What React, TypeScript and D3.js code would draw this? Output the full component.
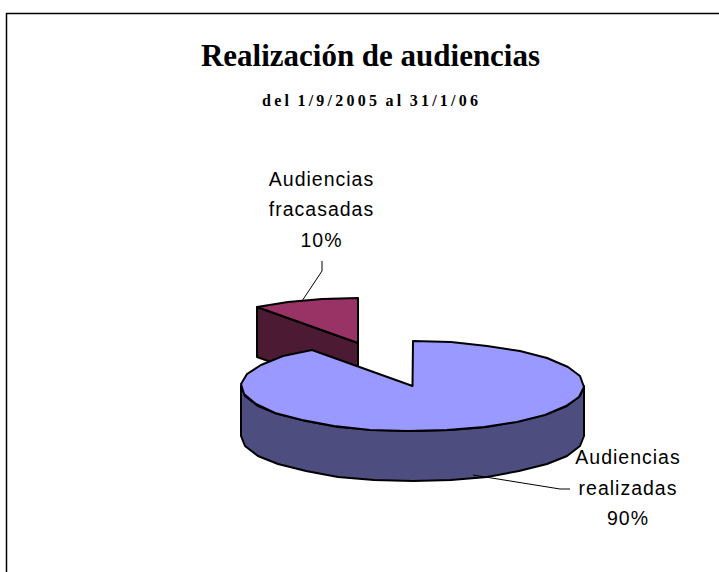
import React from "react";
import * as d3 from "d3";

const categories = ["Audiencias realizadas", "Audiencias fracasadas"];
const values = [90, 10];
const labelLines = [["Audiencias", "realizadas", "90%"], ["Audiencias", "fracasadas", "10%"]];
const topColors = ["#9999ff", "#993366"];
const sideColors = ["#4d4d80", "#4d1a33"];
const title = "Realización de audiencias";
const subtitle = "del 1/9/2005 al 31/1/06";

const W = 719, H = 572;
const RX = 171.5, RY = 45, DEPTH = 50;
const centers = [{ x: 412.5, y: 386 }, { x: 358, y: 343 }];

const pieGen = d3.pie<number>().sort(null);
const arcs = pieGen(values);

const unit = d3.scaleLinear().domain([-1, 1]);
const sx = (c: { x: number }) => unit.copy().range([c.x - RX, c.x + RX]);
const sy = (c: { y: number }) => unit.copy().range([c.y + RY, c.y - RY]);

const polyline = d3.line<[number, number]>().x(d => d[0]).y(d => d[1]).curve(d3.curveLinear);

function rim(c: { x: number; y: number }, a0: number, a1: number, dy = 0): [number, number][] {
  const n = Math.max(2, Math.round(Math.abs(a1 - a0) / (Math.PI / 14)));
  return d3.range(n + 1).map(i => {
    const t = a0 + ((a1 - a0) * i) / n;
    return [Math.round(sx(c)(Math.sin(t))), Math.round(sy(c)(Math.cos(t))) + dy] as [number, number];
  });
}

export default function App() {
  const mainArc = arcs[0];
  const wedgeArc = arcs[1];
  const c0 = centers[0], c1 = centers[1];

  const wallTop = rim(c0, Math.PI / 2, (3 * Math.PI) / 2);
  const wallBottom = rim(c0, (3 * Math.PI) / 2, Math.PI / 2, DEPTH);
  const wall = polyline([...wallTop, ...wallBottom])! + "Z";
  const top = polyline([[c0.x, c0.y], ...rim(c0, mainArc.startAngle, mainArc.endAngle)])! + "Z";

  const wTop = rim(c1, wedgeArc.startAngle, wedgeArc.endAngle);
  const wLeft = wTop[0];
  const wTopPath = polyline([[c1.x, c1.y], ...wTop])! + "Z";
  const wFace = polyline([
    wLeft,
    [c1.x, c1.y],
    [c1.x, c1.y + DEPTH],
    [wLeft[0], wLeft[1] + DEPTH],
  ])! + "Z";

  return (
    <svg width={W} height={H} style={{ position: "absolute", left: 0, top: 0, display: "block", background: "#fff" }}>
      <path d={`M6.5 ${H}V13.5H${W}`} fill="none" stroke="#000" strokeWidth={1.5} />
      <text x={370.5} y={66} textAnchor="middle" fontFamily="Liberation Serif" fontWeight={700} fontSize={32} textLength={339} lengthAdjust="spacingAndGlyphs">{title}</text>
      <text x={370} y={106} textAnchor="middle" fontFamily="Liberation Serif" fontWeight={700} fontSize={16} wordSpacing={-2} textLength={216} lengthAdjust="spacing">{subtitle}</text>

      <g stroke="#000" strokeWidth={2} strokeLinejoin="round">
        <path d={wFace} fill={sideColors[1]} />
        <path d={wTopPath} fill={topColors[1]} />
        <path d={wall} fill={sideColors[0]} />
        <path d={top} fill={topColors[0]} />
      </g>

      <path d="M322 261V271L302 301" fill="none" stroke="#000" strokeWidth={1} />
      <path d="M473 475L560 489H570" fill="none" stroke="#000" strokeWidth={1} />

      <g fontFamily="Liberation Sans" fontSize={19.5} fill="#000" textAnchor="middle" letterSpacing={1}>
        {labelLines[1].map((t, i) => <text key={t} x={321.5} y={185.5 + i * 30.5}>{t}</text>)}
        {labelLines[0].map((t, i) => <text key={t} x={628} y={464 + i * 30.5}>{t}</text>)}
      </g>
      <title>{categories.join(", ")}</title>
    </svg>
  );
}
